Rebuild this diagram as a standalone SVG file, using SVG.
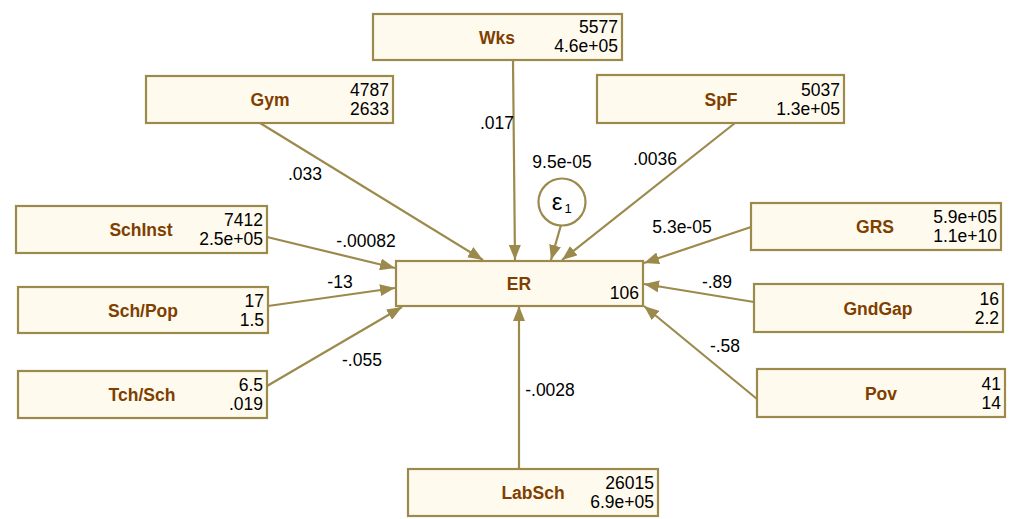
<svg xmlns="http://www.w3.org/2000/svg" width="1015" height="519" viewBox="0 0 1015 519">
<style>
.box{fill:#fffaee;stroke:#9c8a4c;stroke-width:2.2}
.nm{font-family:"Liberation Sans",Arial,sans-serif;font-size:17.5px;font-weight:bold;fill:#7e3f00;text-anchor:middle}
.nu{font-family:"Liberation Sans",Arial,sans-serif;font-size:17.5px;fill:#000;text-anchor:end}
.lb{font-family:"Liberation Sans",Arial,sans-serif;font-size:17.5px;fill:#000;text-anchor:middle}
.ed{stroke:#9c8a4c;stroke-width:2.2;fill:none;marker-end:url(#ah)}
</style>
<defs>
<marker id="ah" markerUnits="userSpaceOnUse" markerWidth="16" markerHeight="12" refX="15" refY="6" orient="auto">
<path d="M0,0 L15,6 L0,12 Z" fill="#9c8a4c"/>
</marker>
</defs>
<rect width="1015" height="519" fill="#fff"/>
<g id="connectors">
<line class="ed" x1="513" y1="60" x2="515" y2="260"/>
<line class="ed" x1="260" y1="123" x2="483" y2="260"/>
<line class="ed" x1="735" y1="123" x2="562" y2="260"/>
<line class="ed" x1="561" y1="225" x2="551" y2="260"/>
<line class="ed" x1="267" y1="237" x2="395" y2="268"/>
<line class="ed" x1="268" y1="306" x2="395" y2="288"/>
<line class="ed" x1="267" y1="386" x2="402" y2="307"/>
<line class="ed" x1="751" y1="227" x2="644" y2="263"/>
<line class="ed" x1="754" y1="302" x2="644" y2="284"/>
<line class="ed" x1="757" y1="399" x2="644" y2="306"/>
<line class="ed" x1="519" y1="469" x2="519" y2="306"/>
<text class="lb" x="497" y="128.5">.017</text>
<text class="lb" x="305" y="179.5">.033</text>
<text class="lb" x="655" y="164.5">.0036</text>
<text class="lb" x="562" y="167.5">9.5e-05</text>
<text class="lb" x="366" y="246.5">-.00082</text>
<text class="lb" x="340" y="287.5">-13</text>
<text class="lb" x="362" y="365.5">-.055</text>
<text class="lb" x="682" y="232.5">5.3e-05</text>
<text class="lb" x="717" y="287.5">-.89</text>
<text class="lb" x="725" y="351.5">-.58</text>
<text class="lb" x="550" y="395.5">-.0028</text>
</g>
<g id="eps">
<circle cx="562" cy="202" r="23.5" fill="#fff" stroke="#9c8a4c" stroke-width="2.2"/>
<text x="557" y="210" font-family="Liberation Sans,Arial,sans-serif" font-size="24" text-anchor="middle">ε</text>
<text x="568" y="213" font-family="Liberation Sans,Arial,sans-serif" font-size="13" text-anchor="middle">1</text>
</g>
<g id="Wks"><rect class="box" x="373" y="14" width="249" height="46"/><text class="nm" x="497" y="43.5">Wks</text><text class="nu" x="618" y="33">5577</text><text class="nu" x="618" y="52">4.6e+05</text></g>
<g id="Gym"><rect class="box" x="146" y="76" width="247" height="47"/><text class="nm" x="270" y="106">Gym</text><text class="nu" x="389" y="96">4787</text><text class="nu" x="389" y="115">2633</text></g>
<g id="SpF"><rect class="box" x="597" y="75" width="247" height="48"/><text class="nm" x="721" y="105.5">SpF</text><text class="nu" x="840" y="95.5">5037</text><text class="nu" x="840" y="114.5">1.3e+05</text></g>
<g id="SchInst"><rect class="box" x="16" y="206" width="251" height="47"/><text class="nm" x="141" y="236">SchInst</text><text class="nu" x="263" y="226">7412</text><text class="nu" x="263" y="245">2.5e+05</text></g>
<g id="SchPop"><rect class="box" x="18" y="287" width="250" height="46"/><text class="nm" x="143" y="316.5">Sch/Pop</text><text class="nu" x="264" y="306.5">17</text><text class="nu" x="264" y="325.5">1.5</text></g>
<g id="TchSch"><rect class="box" x="18" y="371" width="249" height="47"/><text class="nm" x="142" y="401">Tch/Sch</text><text class="nu" x="263" y="391">6.5</text><text class="nu" x="263" y="410">.019</text></g>
<g id="ER"><rect class="box" x="396" y="261" width="247" height="45"/><text class="nm" x="519" y="290">ER</text><text class="nu" x="639" y="299">106</text></g>
<g id="GRS"><rect class="box" x="751" y="203" width="250" height="47"/><text class="nm" x="875" y="233">GRS</text><text class="nu" x="997" y="223">5.9e+05</text><text class="nu" x="997" y="242">1.1e+10</text></g>
<g id="GndGap"><rect class="box" x="754" y="284" width="249" height="48"/><text class="nm" x="878" y="314.5">GndGap</text><text class="nu" x="999" y="304.5">16</text><text class="nu" x="999" y="323.5">2.2</text></g>
<g id="Pov"><rect class="box" x="757" y="369" width="248" height="48"/><text class="nm" x="881" y="399.5">Pov</text><text class="nu" x="1001" y="389.5">41</text><text class="nu" x="1001" y="408.5">14</text></g>
<g id="LabSch"><rect class="box" x="408" y="469" width="250" height="47"/><text class="nm" x="533" y="499">LabSch</text><text class="nu" x="654" y="489">26015</text><text class="nu" x="654" y="508">6.9e+05</text></g>
</svg>
